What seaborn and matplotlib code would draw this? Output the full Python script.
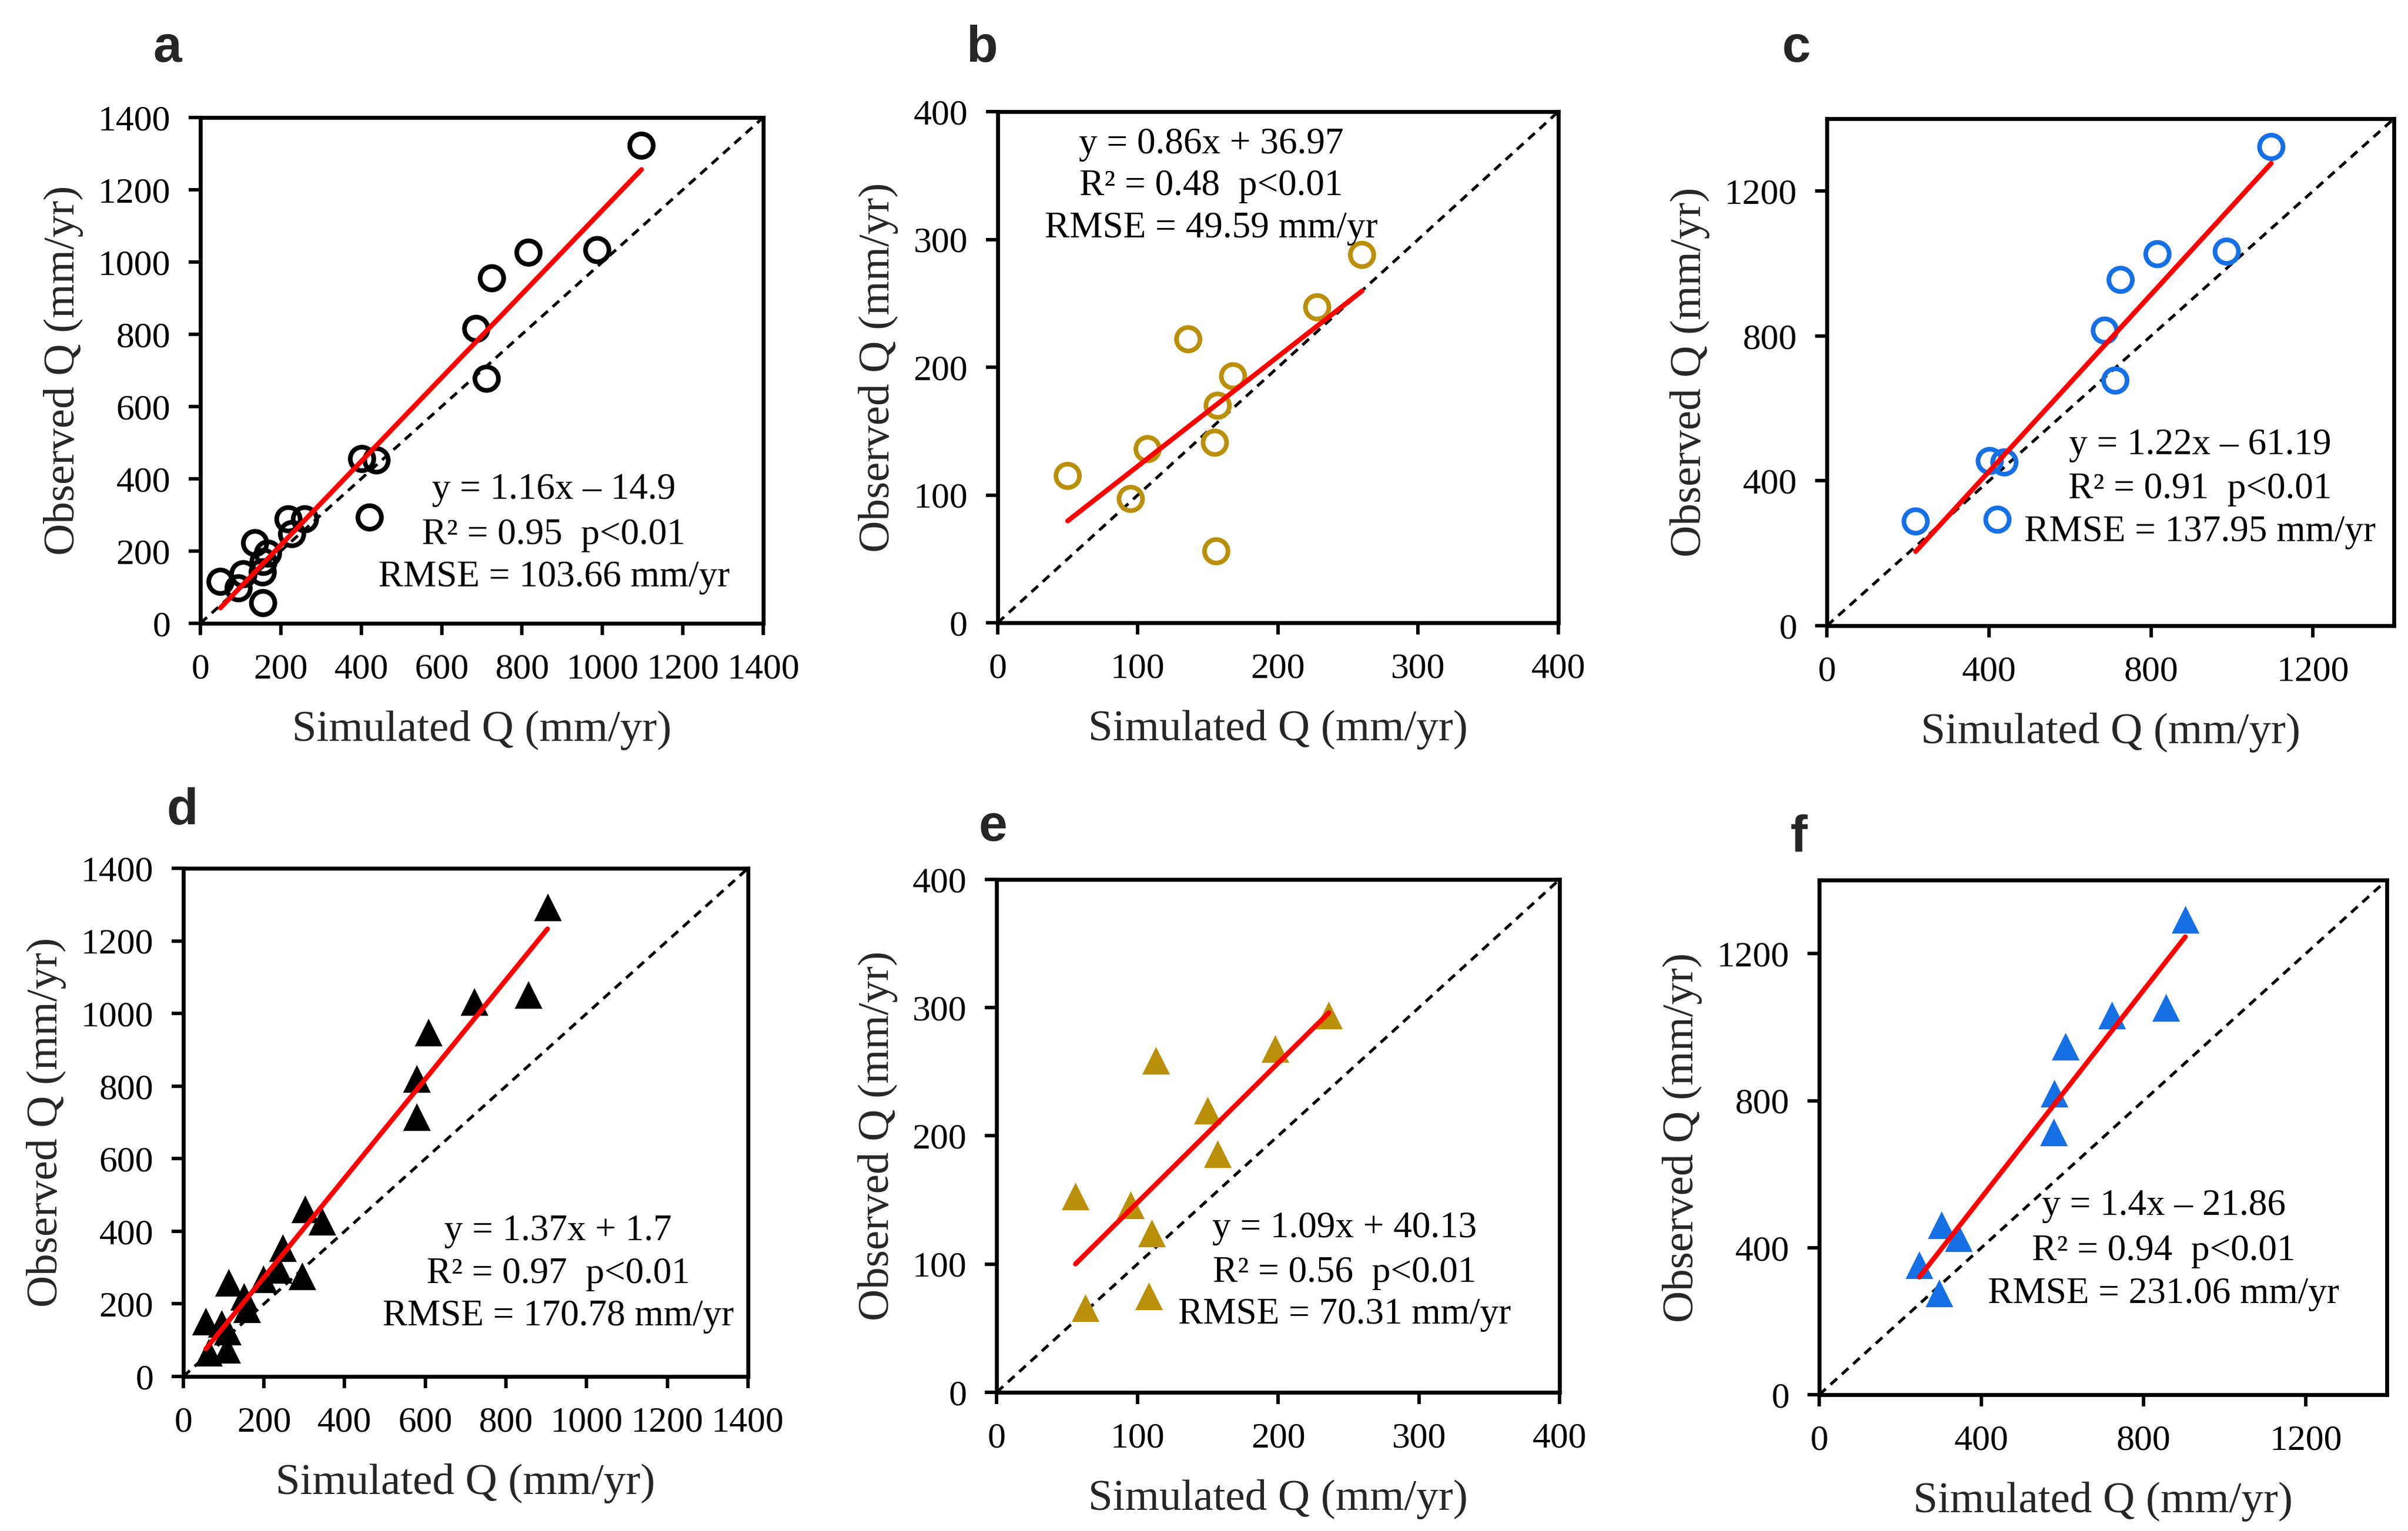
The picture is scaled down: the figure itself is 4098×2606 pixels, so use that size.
import numpy as np
import pandas as pd
import matplotlib
matplotlib.use("Agg")
import matplotlib.pyplot as plt
import seaborn as sns

# calibration period: low-flow catchments (panel b) and high-flow catchments (panel c)
sim_low = [260, 228, 136, 168, 157, 155, 107, 50, 95, 156]
obs_low = [288, 247, 222, 193, 170, 141, 136, 115, 97, 56]
sim_high = [1097, 816, 987, 725, 686, 712, 402, 438, 421, 219]
obs_high = [1322, 1026, 1033, 955, 815, 677, 455, 451, 293, 288]

# validation period: low-flow (panel e) and high-flow (panel f)
sim_low_v = [236, 198, 113, 150, 157, 56, 95, 110, 108, 63]
obs_low_v = [294, 268, 259, 220, 186, 153, 146, 124, 75, 66]
sim_high_v = [903, 855, 722, 607, 579, 578, 302, 344, 247, 295]
obs_high_v = [1294, 1053, 1032, 948, 820, 715, 462, 427, 354, 277]

panel_labels = ["a", "b", "c", "d", "e", "f"]
eq_text = ["y = 1.16x \u2013 14.9", "y = 0.86x + 36.97", "y = 1.22x \u2013 61.19",
           "y = 1.37x + 1.7", "y = 1.09x + 40.13", "y = 1.4x \u2013 21.86"]
r2_text = ["R\u00b2 = 0.95  p<0.01", "R\u00b2 = 0.48  p<0.01", "R\u00b2 = 0.91  p<0.01",
           "R\u00b2 = 0.97  p<0.01", "R\u00b2 = 0.56  p<0.01", "R\u00b2 = 0.94  p<0.01"]
rmse_text = ["RMSE = 103.66 mm/yr", "RMSE = 49.59 mm/yr", "RMSE = 137.95 mm/yr",
             "RMSE = 170.78 mm/yr", "RMSE = 70.31 mm/yr", "RMSE = 231.06 mm/yr"]

GOLD = "#BA900A"
BLUE = "#1570E6"

panels = [
    # x, y, marker, colour, limit, tick step
    (sim_low + sim_high, obs_low + obs_high, "o", "black", 1400, 200),
    (sim_low, obs_low, "o", GOLD, 400, 100),
    (sim_high, obs_high, "o", BLUE, 1400, 400),
    (sim_low_v + sim_high_v, obs_low_v + obs_high_v, "^", "black", 1400, 200),
    (sim_low_v, obs_low_v, "^", GOLD, 400, 100),
    (sim_high_v, obs_high_v, "^", BLUE, 1400, 400),
]

axes_pos = [
    [0.0832, 0.5929, 0.2338, 0.3304],
    [0.4143, 0.5932, 0.2328, 0.3338],
    [0.7587, 0.5913, 0.2355, 0.3312],
    [0.0761, 0.1009, 0.2345, 0.3319],
    [0.4139, 0.0906, 0.2338, 0.3350],
    [0.7555, 0.0890, 0.2357, 0.3361],
]
label_pos = [(285, 83), (1671, 83), (3057, 83), (310, 1380), (1690, 1409), (3061, 1426)]
text_x = [0.628, 0.381, 0.658, 0.664, 0.618, 0.607]
text_y = [(0.264, 0.174, 0.090), (0.936, 0.854, 0.771), (0.356, 0.269, 0.184),
          (0.286, 0.201, 0.118), (0.319, 0.232, 0.151), (0.366, 0.279, 0.195)]

sns.set_style("ticks")
plt.rcParams["font.family"] = ["Liberation Serif", "DejaVu Serif"]

W, H = 4098, 2606
fig = plt.figure(figsize=(W / 300, H / 300), dpi=300)

for i, (sx, oy, marker, color, lim, step) in enumerate(panels):
    ax = fig.add_axes(axes_pos[i])
    df = pd.DataFrame({"sim": sx, "obs": oy})

    ax.axline((0, 0), slope=1, color="black", ls=(0, (3.0, 2.2)), lw=1.2, zorder=1)

    if marker == "o":
        sns.scatterplot(data=df, x="sim", y="obs", ax=ax, marker="o", s=92,
                        facecolor="none", edgecolor=color, linewidth=1.9, zorder=3)
    else:
        sns.scatterplot(data=df, x="sim", y="obs", ax=ax, marker="^", s=128,
                        color=color, edgecolor=color, linewidth=0, zorder=3)

    sns.regplot(data=df, x="sim", y="obs", ax=ax, scatter=False, ci=None,
                color="#FF0000", line_kws=dict(lw=2.0, solid_capstyle="round", zorder=4))

    ax.set_xlim(0, lim)
    ax.set_ylim(0, lim)
    ticks = np.arange(0, lim + 1, step)
    ticks = ticks[ticks <= lim]
    ax.set_xticks(ticks)
    ax.set_yticks(ticks)
    ax.tick_params(direction="out", length=4.7, width=1.4, pad=7.5,
                   labelsize=14.8, colors="black")
    for sp in ax.spines.values():
        sp.set_visible(True)
        sp.set_linewidth(1.6)
        sp.set_color("black")

    ax.set_xlabel("Simulated Q (mm/yr)", fontsize=18, labelpad=10)
    ax.set_ylabel("Observed Q (mm/yr)", fontsize=18, labelpad=6)

    for txt, ty in zip([eq_text[i], r2_text[i], rmse_text[i]], text_y[i]):
        ax.text(text_x[i], ty, txt, transform=ax.transAxes, ha="center",
                va="center", fontsize=15.2, color="black")

    lx, ly = label_pos[i]
    fig.text(lx / W, 1 - ly / H, panel_labels[i], fontsize=21, fontweight="bold",
             family="Liberation Sans", ha="center", va="center")

fig.savefig("out.png", dpi=300, facecolor="white")
